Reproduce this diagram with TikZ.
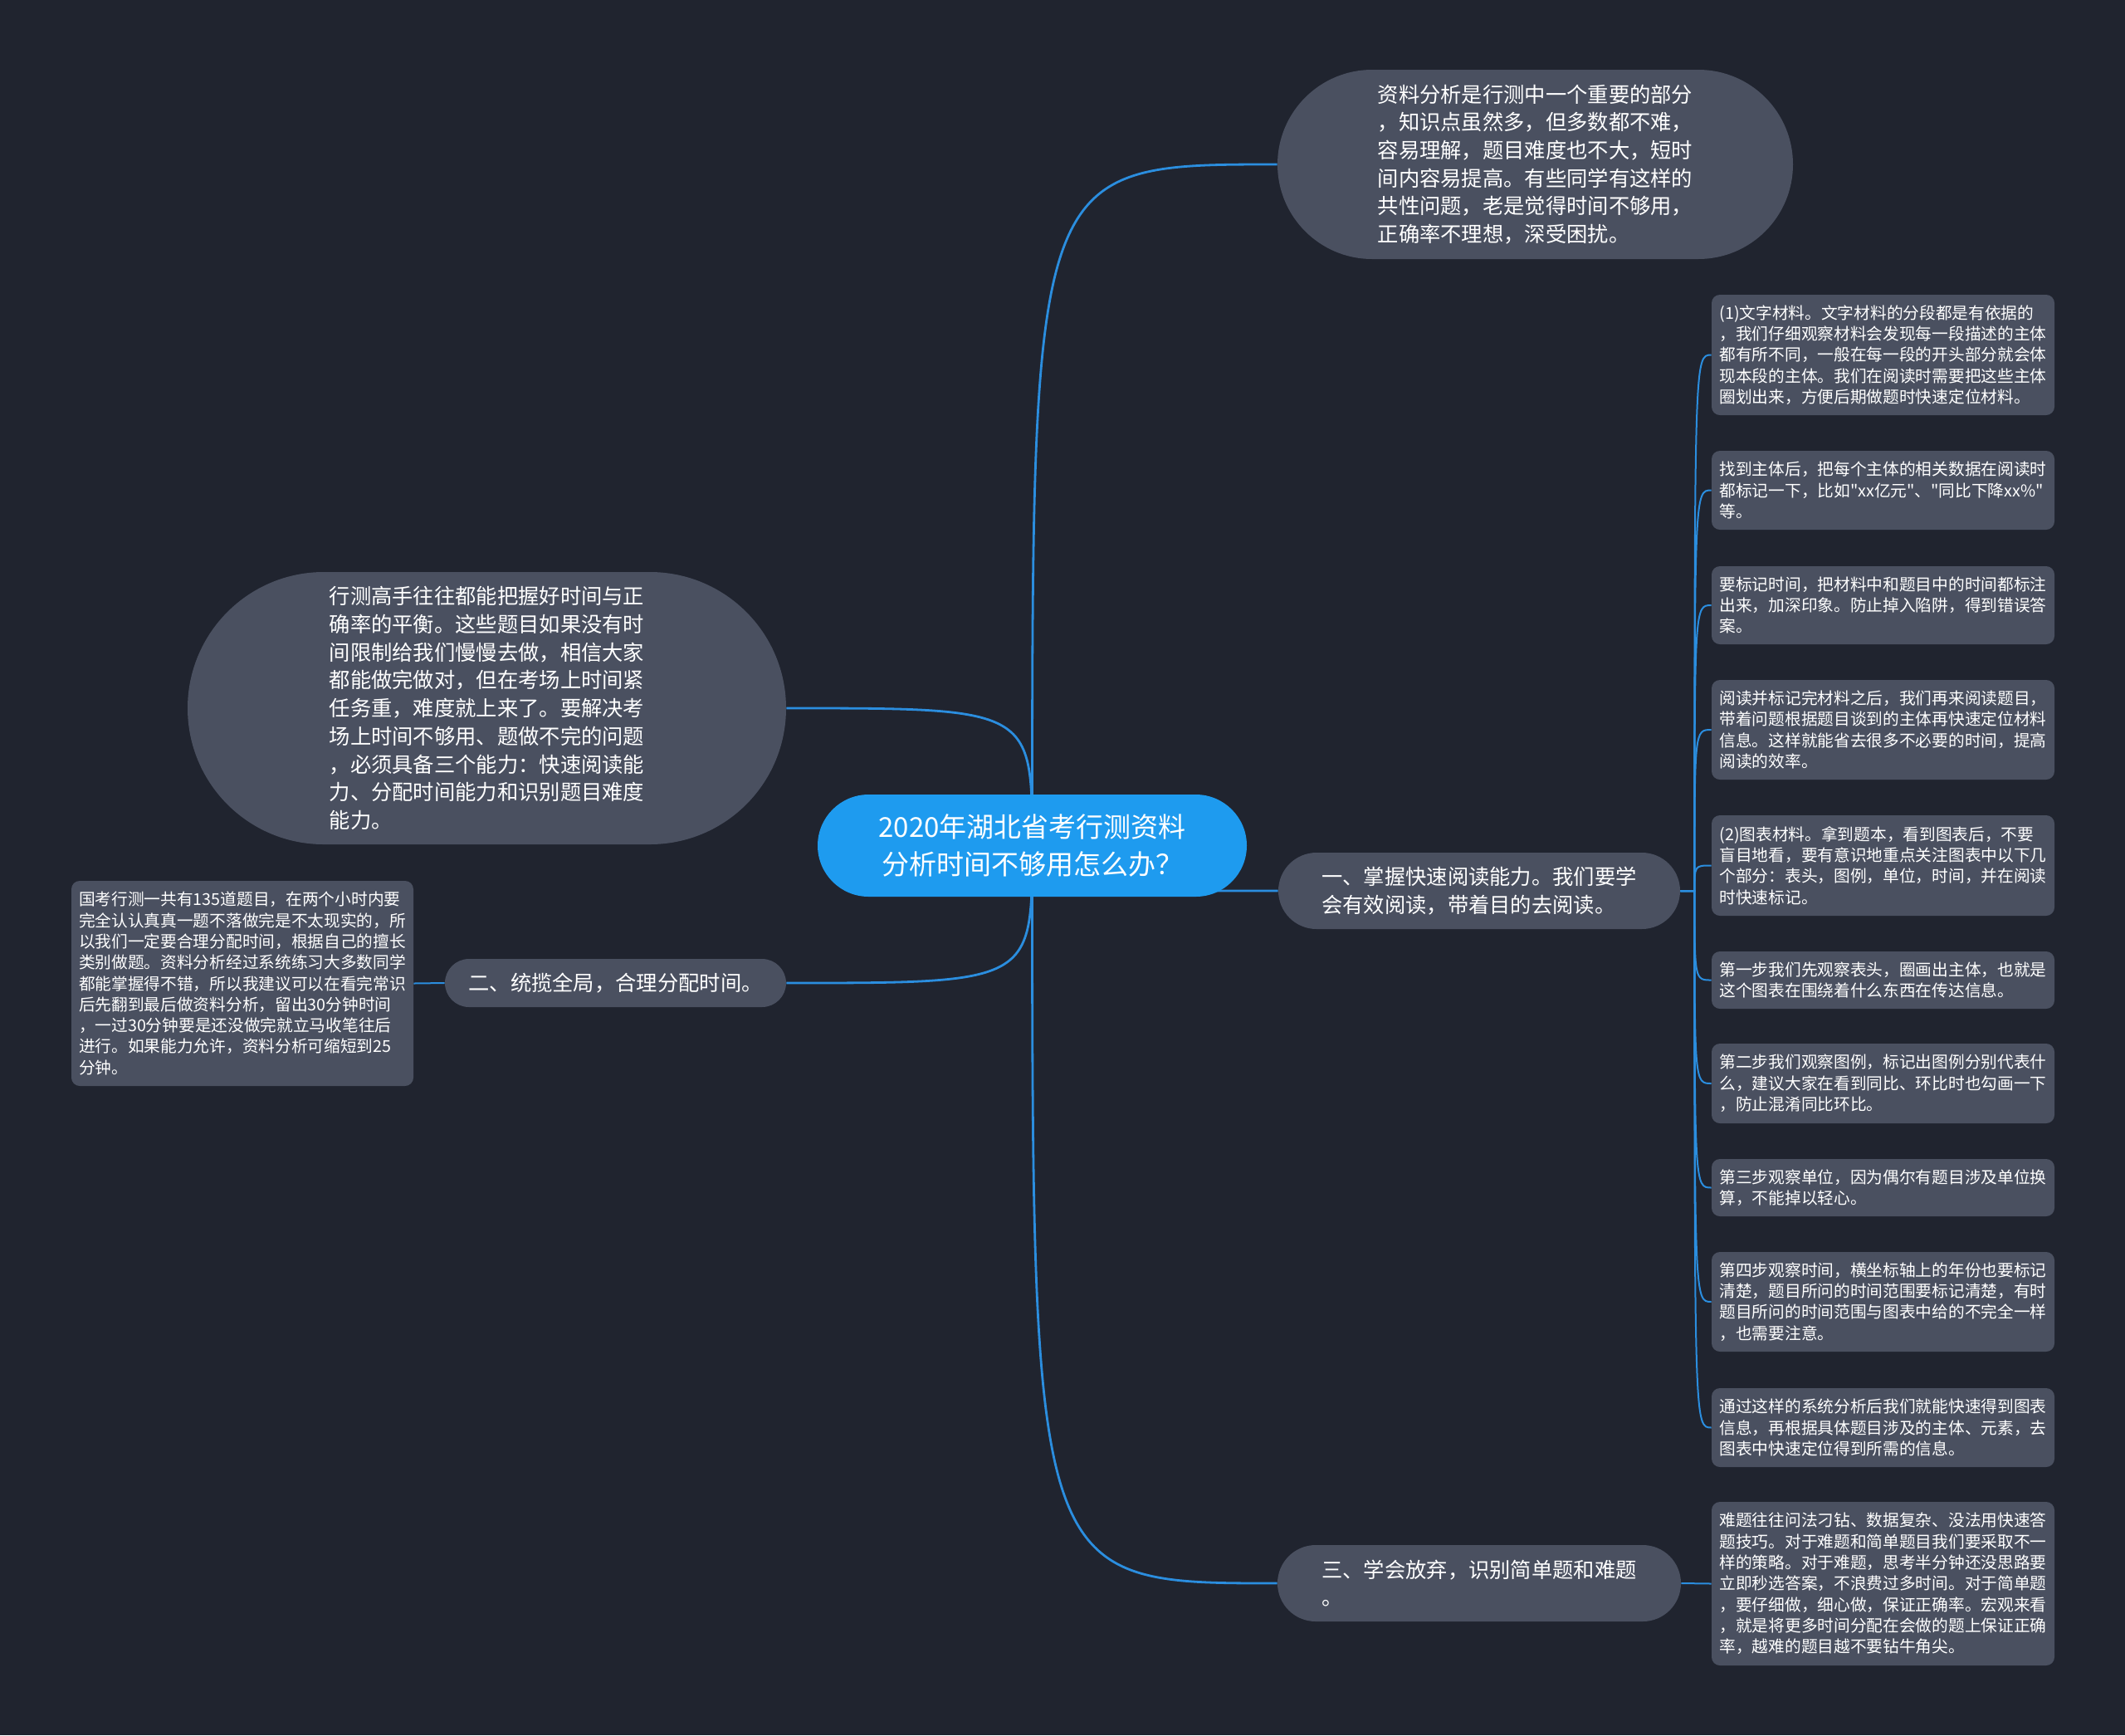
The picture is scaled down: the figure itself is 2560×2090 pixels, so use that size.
\documentclass[tikz,border=0pt]{standalone}
\usepackage{fontspec}
\newfontfamily\cjkf{Noto Sans CJK SC}
\usetikzlibrary{backgrounds}
\definecolor{bgc}{HTML}{20242F}
\definecolor{nodef}{HTML}{4A5060}
\definecolor{centerf}{HTML}{1E9BEF}
\definecolor{linec}{HTML}{2B8EDF}
\newcommand{\mmbig}{\cjkf\fontsize{12.65pt}{16.85pt}\selectfont}
\newcommand{\mmleaf}{\cjkf\fontsize{9.85pt}{12.65pt}\selectfont}
\newcommand{\mmcenter}{\cjkf\fontsize{16.5pt}{22.5pt}\selectfont}
\tikzset{
  conn/.style={draw=linec, line width=1.4pt},
  leafconn/.style={draw=linec, line width=1pt},
  pill/.style={fill=nodef, text=white, align=left, inner sep=0pt, font=\mmbig},
  leafbox/.style={fill=nodef, text=white, align=left, inner sep=0pt, rounded corners=5pt, font=\mmleaf, minimum width=206.5pt},
}
\begin{document}
\begin{tikzpicture}[x=0.5pt,y=-0.5pt]
\useasboundingbox (0,0) rectangle (2560,2090);
% central topic
\node[pill, fill=centerf, align=center, font=\mmcenter, minimum width=258.5pt, minimum height=61.5pt, rounded corners=30.75pt] (c) at (1243.5,1018.5) {2020年湖北省考行测资料\\分析时间不够用怎么办？};
% top bubble
\node[pill, minimum width=310.5pt, minimum height=114pt, rounded corners=57pt] (top) at (1849.5,198) {资料分析是行测中一个重要的部分\\，知识点虽然多，但多数都不难，\\容易理解，题目难度也不大，短时\\间内容易提高。有些同学有这样的\\共性问题，老是觉得时间不够用，\\正确率不理想，深受困扰。};
% left big bubble
\node[pill, minimum width=360.5pt, minimum height=164pt, rounded corners=82pt] (lbig) at (586.5,853) {行测高手往往都能把握好时间与正\\确率的平衡。这些题目如果没有时\\间限制给我们慢慢去做，相信大家\\都能做完做对，但在考场上时间紧\\任务重，难度就上来了。要解决考\\场上时间不够用、题做不完的问题\\，必须具备三个能力：快速阅读能\\力、分配时间能力和识别题目难度\\能力。};
% branches
\node[pill, minimum width=242pt, minimum height=46pt, rounded corners=23pt] (b1) at (1782,1073) {一、掌握快速阅读能力。我们要学\\会有效阅读，带着目的去阅读。};
\node[pill, minimum width=205.5pt, minimum height=29pt, rounded corners=14.5pt] (b2) at (741.5,1184) {二、统揽全局，合理分配时间。};
\node[pill, minimum width=243pt, minimum height=46pt, rounded corners=23pt] (b3) at (1782,1907) {三、学会放弃，识别简单题和难题\\。};
% left leaf
\node[leafbox, minimum width=206pt, minimum height=123.5pt] (lleaf) at (292,1184.5) {国考行测一共有135道题目，在两个小时内要\\完全认认真真一题不落做完是不太现实的，所\\以我们一定要合理分配时间，根据自己的擅长\\类别做题。资料分析经过系统练习大多数同学\\都能掌握得不错，所以我建议可以在看完常识\\后先翻到最后做资料分析，留出30分钟时间\\，一过30分钟要是还没做完就立马收笔往后\\进行。如果能力允许，资料分析可缩短到25\\分钟。};
% right leaves
\node[leafbox, minimum height=72.5pt] (L1) at (2268.5,427.5) {(1)文字材料。文字材料的分段都是有依据的\\，我们仔细观察材料会发现每一段描述的主体\\都有所不同，一般在每一段的开头部分就会体\\现本段的主体。我们在阅读时需要把这些主体\\圈划出来，方便后期做题时快速定位材料。};
\node[leafbox, minimum height=47.5pt] (L2) at (2268.5,590.5) {找到主体后，把每个主体的相关数据在阅读时\\都标记一下，比如"xx亿元"、"同比下降xx\%"\\等。};
\node[leafbox, minimum height=47pt] (L3) at (2268.5,729) {要标记时间，把材料中和题目中的时间都标注\\出来，加深印象。防止掉入陷阱，得到错误答\\案。};
\node[leafbox, minimum height=60pt] (L4) at (2268.5,879) {阅读并标记完材料之后，我们再来阅读题目，\\带着问题根据题目谈到的主体再快速定位材料\\信息。这样就能省去很多不必要的时间，提高\\阅读的效率。};
\node[leafbox, minimum height=60.5pt] (L5) at (2268.5,1042.5) {(2)图表材料。拿到题本，看到图表后，不要\\盲目地看，要有意识地重点关注图表中以下几\\个部分：表头，图例，单位，时间，并在阅读\\时快速标记。};
\node[leafbox, minimum height=34.5pt] (L6) at (2268.5,1180.5) {第一步我们先观察表头，圈画出主体，也就是\\这个图表在围绕着什么东西在传达信息。};
\node[leafbox, minimum height=48pt] (L7) at (2268.5,1305) {第二步我们观察图例，标记出图例分别代表什\\么，建议大家在看到同比、环比时也勾画一下\\，防止混淆同比环比。};
\node[leafbox, minimum height=34.5pt] (L8) at (2268.5,1430.5) {第三步观察单位，因为偶尔有题目涉及单位换\\算，不能掉以轻心。};
\node[leafbox, minimum height=60pt] (L9) at (2268.5,1568) {第四步观察时间，横坐标轴上的年份也要标记\\清楚，题目所问的时间范围要标记清楚，有时\\题目所问的时间范围与图表中给的不完全一样\\，也需要注意。};
\node[leafbox, minimum height=47.5pt] (L10) at (2268.5,1719.5) {通过这样的系统分析后我们就能快速得到图表\\信息，再根据具体题目涉及的主体、元素，去\\图表中快速定位得到所需的信息。};
\node[leafbox, minimum height=98.5pt] (L11) at (2268.5,1907.5) {难题往往问法刁钻、数据复杂、没法用快速答\\题技巧。对于难题和简单题目我们要采取不一\\样的策略。对于难题，思考半分钟还没思路要\\立即秒选答案，不浪费过多时间。对于简单题\\，要仔细做，细心做，保证正确率。宏观来看\\，就是将更多时间分配在会做的题上保证正确\\率，越难的题目越不要钻牛角尖。};
\coordinate (h1) at ([xshift=8.5pt]b1.east);
\begin{pgfonlayer}{background}
\fill[bgc] (0,0) rectangle (2560,2090);
\draw[conn] (c.center) .. controls (c.center |- top.west) .. (top.west);
\draw[conn] (c.center) .. controls (c.center |- lbig.east) .. (lbig.east);
\draw[conn] (c.center) .. controls (c.center |- b2.east) .. (b2.east);
\draw[conn] (c.center) .. controls (c.center |- b1.west) .. (b1.west);
\draw[conn] (c.center) .. controls (c.center |- b3.west) .. (b3.west);
\draw[leafconn] (b2.west) -- (lleaf.east);
\draw[leafconn] (b3.east) -- (L11.west);
\foreach \n in {L1,L2,L3,L4,L5,L6,L7,L8,L9,L10}{
  \draw[leafconn] (b1.east) -- (h1) .. controls (h1 |- \n.west) .. (\n.west);
}
\end{pgfonlayer}
\end{tikzpicture}
\end{document}
